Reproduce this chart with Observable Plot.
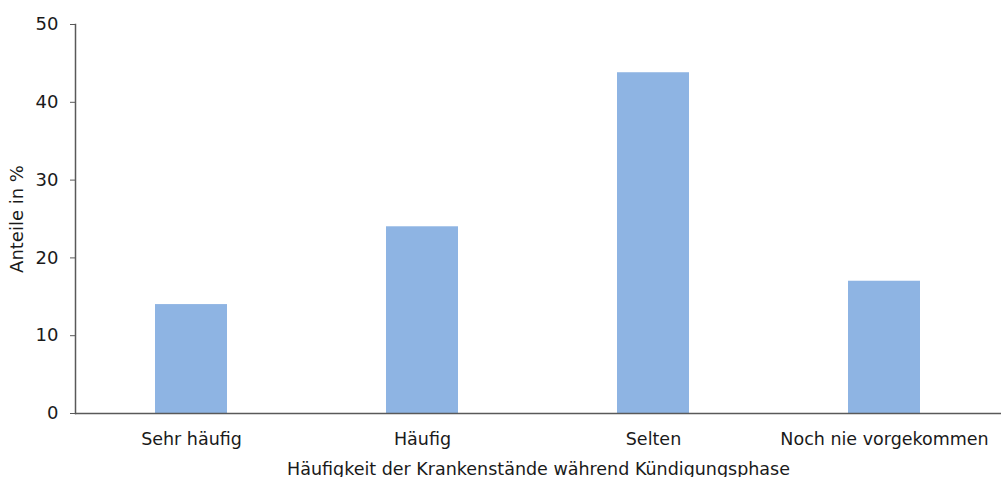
<!DOCTYPE html>
<html>
<head>
<meta charset="utf-8">
<script src="https://cdn.jsdelivr.net/npm/d3@7"></script>
<script src="https://cdn.jsdelivr.net/npm/@observablehq/plot@0.6"></script>
<style>
  html, body { margin: 0; padding: 0; background: white; }
  #chart svg { display: block; }
</style>
</head>
<body>
<div id="chart"></div>
<script>
const categories = ["Sehr häufig", "Häufig", "Selten", "Noch nie vorgekommen"];
const values = [14, 24, 43.8, 17];
const yTicks = [0, 10, 20, 30, 40, 50];
const xTitle = "Häufigkeit der Krankenstände während Kündigungsphase";
const yTitle = "Anteile in %";

const data = categories.map((c, i) => ({category: c, value: values[i]}));
const axisColor = "#595959";
const textColor = "#1a1a1a";

const chart = Plot.plot({
  width: 1001,
  height: 477,
  marginLeft: 75,
  marginRight: 0,
  marginTop: 24,
  marginBottom: 64,
  style: {fontFamily: "DejaVu Sans", fontSize: "18px", color: textColor, background: "white"},
  x: {domain: categories, paddingInner: 0.688, paddingOuter: 0.344, label: null},
  y: {domain: [0, 50], ticks: yTicks, label: null},
  marks: [
    Plot.barY(data, {x: "category", y: "value", fill: "#8EB4E3"}),
    Plot.frame({anchor: "left", stroke: axisColor, strokeWidth: 1.5}),
    Plot.ruleY([0], {stroke: axisColor, strokeWidth: 1.5}),
    Plot.axisY({ticks: yTicks, tickSize: 5, tickPadding: 12, stroke: axisColor,
      label: yTitle, labelAnchor: "center", labelArrow: "none", labelOffset: 65, fontSize: 18}),
    Plot.axisX({tickSize: 0, tickPadding: 19, label: xTitle, labelAnchor: "center",
      labelArrow: "none", labelOffset: 61, fontSize: 17.5})
  ]
});
document.getElementById("chart").appendChild(chart);
</script>
</body>
</html>
